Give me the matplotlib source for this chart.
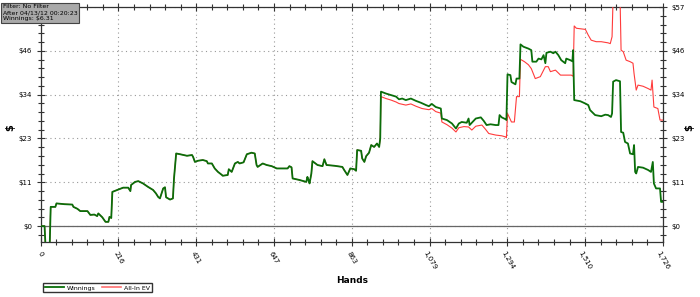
import numpy as np
import matplotlib
matplotlib.use('Agg')
import matplotlib.pyplot as plt
from matplotlib.ticker import AutoMinorLocator

# Winnings curve (hands, dollars)
hands_w = [0, 11, 14, 25, 28, 41, 44, 66, 88, 91, 102, 110, 130, 138, 149, 157, 160, 171, 180, 188,
           191, 196, 199, 215, 229, 243, 249, 251, 262, 271, 284, 298, 312, 320, 326, 331, 337, 340,
           345, 348, 359, 367, 370, 376, 387, 406, 420, 423, 428, 436, 450, 461, 464, 475, 483, 492,
           503, 505, 519, 522, 530, 539, 547, 552, 563, 572, 585, 594, 599, 602, 616, 627, 641, 655,
           663, 685, 690, 696, 699, 718, 737, 740, 743, 746, 751, 754, 768, 782, 787, 793, 815, 837,
           842, 851, 859, 870, 875, 878, 889, 892, 898, 903, 911, 917, 925, 933, 939, 942, 944, 958,
           972, 986, 994, 1003, 1013, 1027, 1041, 1055, 1069, 1077, 1085, 1096, 1110, 1113, 1127, 1141,
           1152, 1160, 1168, 1182, 1187, 1190, 1201, 1207, 1221, 1229, 1237, 1248, 1262, 1270, 1273,
           1279, 1290, 1292, 1295, 1303, 1306, 1317, 1320, 1328, 1331, 1339, 1353, 1361, 1364, 1375,
           1381, 1389, 1395, 1400, 1403, 1414, 1422, 1428, 1436, 1444, 1455, 1458, 1469, 1475, 1477,
           1480, 1497, 1511, 1519, 1524, 1538, 1555, 1566, 1574, 1582, 1585, 1588, 1596, 1607, 1610,
           1616, 1621, 1629, 1635, 1643, 1646, 1649, 1652, 1657, 1671, 1685, 1693, 1698, 1701, 1707,
           1718, 1721, 1726]
winnings = [0, 0, -6, -6, 5.0, 5.0, 5.9, 5.7, 5.6, 5.0, 4.5, 3.9, 3.9, 2.9, 3.0, 2.6, 3.3, 2.3, 1.1, 1.1,
            2.4, 2.1, 8.9, 9.5, 10.0, 10.0, 9.1, 10.7, 11.5, 11.7, 11.1, 10.2, 9.4, 8.5, 7.6, 7.2, 8.9, 9.8,
            10.1, 7.5, 6.9, 7.2, 12.4, 18.9, 18.7, 18.3, 18.5, 18.0, 16.7, 17.0, 17.2, 16.9, 16.3, 16.3, 15.0, 14.1,
            13.3, 13.1, 13.3, 14.8, 14.1, 16.3, 16.7, 16.3, 16.6, 18.7, 19.1, 18.9, 15.9, 15.4, 16.3, 15.9, 15.6, 15.0,
            15.0, 15.0, 15.6, 15.3, 12.4, 12.0, 11.5, 12.8, 12.0, 11.1, 13.7, 16.9, 15.9, 15.6, 17.4, 15.9, 15.7, 15.4,
            14.6, 13.3, 15.0, 14.8, 14.4, 19.8, 19.6, 17.6, 16.7, 18.2, 19.1, 21.1, 20.6, 21.5, 20.6, 22.8, 35.0, 34.5,
            34.1, 33.7, 33.0, 33.2, 32.8, 33.2, 32.6, 32.1, 31.5, 31.2, 31.8, 31.0, 30.6, 28.0, 27.6, 26.7,
            25.4, 26.7, 27.1, 26.9, 28.0, 26.3, 27.4, 28.0, 28.3, 27.4, 26.3, 26.5, 26.3, 26.3, 28.9,
            28.3, 27.8, 27.6, 39.5, 39.3, 37.5, 36.9, 38.4, 38.4, 47.3, 46.7, 46.2, 45.8, 42.8, 42.8,
            43.6, 43.4, 44.5, 42.4, 45.1, 45.4, 45.0, 45.4, 44.5, 43.2, 42.4, 43.6, 43.2, 42.9, 45.8,
            32.8, 32.5, 31.9, 31.5, 30.2, 28.9, 28.6, 29.0, 28.9, 28.4, 29.3, 37.6, 38.0, 37.7, 24.5,
            24.3, 21.9, 21.5, 18.9, 18.7, 21.1, 14.1, 13.7, 15.4, 15.2, 14.6, 14.1, 16.7, 11.1, 9.8,
            9.8, 6.3, 6.31]

# All-in EV once it separates from winnings
hands_ev = [944, 958, 972, 986, 994, 1013, 1027, 1041, 1058, 1077, 1085, 1096, 1110, 1113, 1127, 1141,
            1152, 1160, 1174, 1187, 1196, 1207, 1224, 1234, 1243, 1262, 1279, 1290, 1292, 1295, 1306,
            1314, 1320, 1328, 1331, 1342, 1353, 1361, 1372, 1386, 1400, 1408, 1414, 1428, 1442, 1455,
            1472, 1477, 1480, 1486, 1511, 1519, 1527, 1541, 1555, 1574, 1580, 1585, 1588, 1607, 1610,
            1616, 1624, 1635, 1643, 1646, 1652, 1657, 1671, 1685, 1693, 1696, 1701, 1712, 1718, 1726]
allin_ev = [33.7, 33.2, 32.8, 32.3, 31.9, 31.5, 31.8, 31.2, 30.6, 30.3, 30.6, 29.8, 29.4, 27.1, 26.4, 25.5,
            24.5, 25.6, 25.9, 25.8, 25.0, 26.0, 26.3, 25.2, 24.1, 23.7, 23.5, 23.2, 23.0, 29.3, 27.1,
            27.1, 33.7, 33.7, 43.4, 42.8, 42.0, 41.0, 38.4, 38.9, 41.5, 41.5, 40.2, 40.6, 39.3, 39.3,
            39.3, 39.0, 52.1, 51.5, 51.2, 49.7, 48.4, 48.0, 48.0, 47.7, 47.5, 49.3, 60.0, 60.0, 45.8,
            45.4, 43.2, 42.8, 42.4, 39.7, 35.4, 36.7, 36.4, 35.8, 35.4, 38.0, 31.0, 30.6, 27.6, 27.6]

x_labels = ['0', '216', '431', '647', '863', '1,079', '1,294', '1,510', '1,726']
y_labels = ['$0', '$11', '$23', '$34', '$46', '$57']

# EV matches winnings until the first all-in
ev_h = [h for h in hands_w if h < hands_ev[0]] + hands_ev
ev_v = winnings[:len(ev_h) - len(hands_ev)] + allin_ev

fig = plt.figure(figsize=(7, 2.97), dpi=100)
ax = fig.add_axes([0.058, 0.185, 0.889, 0.791])

ax.plot(ev_h, ev_v, color='#ff3b3b', lw=0.8, label='All-In EV', zorder=3)
ax.plot(hands_w, winnings, color='#0a6e0a', lw=1.3, label='Winnings', zorder=4)
ax.axhline(0, color='#666666', lw=0.9, zorder=2)

ax.set_xlim(0, 1726)
ax.set_ylim(-4.16, 57)
ax.set_xticks(np.linspace(0, 1726, len(x_labels)))
ax.set_xticklabels(x_labels, rotation=-60, ha='center', fontsize=5)
ax.set_yticks(np.linspace(0, 57, len(y_labels)))
ax.set_yticklabels(y_labels, fontsize=5)
ax.xaxis.set_minor_locator(AutoMinorLocator(5))
ax.yaxis.set_minor_locator(AutoMinorLocator(5))
ax.tick_params(which='both', direction='inout', top=True, right=True, labelright=True,
               color='#333333', width=0.8, pad=3)
ax.tick_params(which='major', length=6)
ax.tick_params(which='minor', length=4)
ax.grid(True, which='major', linestyle=(0, (1, 3)), color='#999999', lw=0.8)
for s in ax.spines.values():
    s.set_color('#333333')
    s.set_linewidth(0.9)

ax.set_xlabel('Hands', fontsize=6.5, fontweight='bold', labelpad=4)
fig.text(0.015, 0.57, '$', fontsize=7, fontweight='bold', rotation=90, ha='center', va='center')
fig.text(0.985, 0.57, '$', fontsize=7, fontweight='bold', rotation=90, ha='center', va='center')

fig.text(0.004, 0.985, 'Filter: No Filter\nAfter 04/13/12 00:20:23\nWinnings: $6.31',
         fontsize=4.5, va='top', ha='left', linespacing=1.25,
         bbox=dict(boxstyle='square,pad=0.3', facecolor='#a9a9a9', edgecolor='#444444', lw=0.8),
         zorder=10)

h, l = ax.get_legend_handles_labels()
leg = fig.legend(h[::-1], l[::-1], loc='lower left', bbox_to_anchor=(0.057, 0.005), ncol=2,
                 fontsize=4.5, fancybox=False, edgecolor='#333333', framealpha=1, handlelength=3,
                 borderpad=0.3, columnspacing=1.0, handletextpad=0.5)
leg.get_lines()[1].set_linewidth(1.2)
leg.get_lines()[1].set_color('#ff7070')

fig.savefig('out.png', dpi=100)
